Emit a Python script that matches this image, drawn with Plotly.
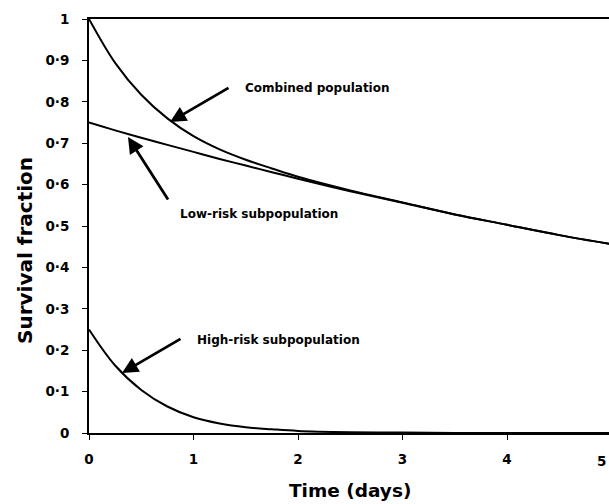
import plotly.graph_objects as go

# ---- data ----
time_days = [0, 0.25, 0.5, 0.75, 1, 1.25, 1.5, 1.75, 2, 2.5, 3, 3.5, 4, 4.5, 5]
combined = [1.0, 0.894, 0.817, 0.760, 0.717, 0.685, 0.660, 0.639, 0.619, 0.586, 0.557, 0.528, 0.503, 0.478, 0.456]
low_risk = [0.75, 0.731, 0.713, 0.696, 0.679, 0.662, 0.646, 0.630, 0.614, 0.584, 0.556, 0.528, 0.503, 0.478, 0.456]
high_risk = [0.25, 0.163, 0.104, 0.064, 0.038, 0.023, 0.014, 0.009, 0.005, 0.002, 0.001, 0.0, 0.0, 0.0, 0.0]

x_tick_vals = [0, 1, 2, 3, 4, 5]
x_tick_labels = ["0", "1", "2", "3", "4", "5"]
y_tick_vals = [0, 0.1, 0.2, 0.3, 0.4, 0.5, 0.6, 0.7, 0.8, 0.9, 1]
y_tick_labels = ["0", "0·1", "0·2", "0·3", "0·4", "0·5", "0·6", "0·7", "0·8", "0·9", "1"]

FONT = "DejaVu Sans"

fig = go.Figure()
for name, ys in [("Combined population", combined),
                 ("Low-risk subpopulation", low_risk),
                 ("High-risk subpopulation", high_risk)]:
    fig.add_trace(go.Scatter(x=time_days, y=ys, mode="lines", name=name,
                             line=dict(color="black", width=2, shape="spline", smoothing=1.0),
                             showlegend=False))

W, H = 609, 504
L, R, T, B = 89, 0, 19, 71
PW, PH = W - L - R, H - T - B
px_per_unit = 104.5
x_max = PW / px_per_unit

fig.update_layout(
    width=W, height=H,
    margin=dict(l=L, r=R, t=T, b=B),
    paper_bgcolor="white", plot_bgcolor="white",
    font=dict(family=FONT, color="black"),
    xaxis=dict(range=[0, x_max], tickvals=x_tick_vals[:-1], ticktext=x_tick_labels[:-1],
               showgrid=False, zeroline=False, showline=True, linecolor="black", linewidth=2,
               mirror=True, ticks="outside", ticklen=5, tickwidth=1, tickcolor="black",
               tickfont=dict(family=FONT, size=13.5, weight="bold", color="black"),
               ticklabelstandoff=8),
    yaxis=dict(range=[0, 1], tickvals=y_tick_vals, ticktext=y_tick_labels,
               showgrid=False, zeroline=False, showline=True, linecolor="black", linewidth=2,
               ticks="outside", ticklen=5, tickwidth=1, tickcolor="black",
               tickfont=dict(family=FONT, size=13.5, weight="bold", color="black"),
               ticklabelstandoff=10),
)

def px_to_data(px, py):
    return (px - L) / px_per_unit, (H - B - py) / PH

# arrows (head position in data coords, tail offset in pixels)
arrows = [((170, 122), (230, 87)),
          ((128, 137), (169, 201)),
          ((122, 373), (182, 338))]
for (hx, hy), (tx, ty) in arrows:
    dx, dy = px_to_data(hx, hy)
    fig.add_annotation(x=dx, y=dy, xref="x", yref="y", text="", showarrow=True,
                       ax=tx - hx, ay=ty - hy, arrowhead=2, arrowsize=1.15,
                       arrowwidth=2.8, arrowcolor="black")

labels = [("Combined population", 243, 88),
          ("Low-risk subpopulation", 178, 214),
          ("High-risk subpopulation", 195, 340)]
for txt, lx, ly in labels:
    dx, dy = px_to_data(lx, ly)
    fig.add_annotation(x=dx, y=dy, xref="x", yref="y", text=txt, showarrow=False,
                       xanchor="left", yanchor="middle",
                       font=dict(family=FONT, size=12, weight="bold", color="black"))

# last x tick label (at the right edge of the window)
fig.add_annotation(x=1.0, y=(H - B - 461) / PH,
                   xref="paper", yref="paper",
                   text=x_tick_labels[-1], showarrow=False, xanchor="right", yanchor="middle",
                   xshift=-1,
                   font=dict(family=FONT, size=13.5, weight="bold", color="black"))

# axis titles
fig.add_annotation(x=(350 - L) / PW, y=(H - B - 490) / PH,
                   xref="paper", yref="paper", text="Time (days)", showarrow=False,
                   xanchor="center", yanchor="middle",
                   font=dict(family=FONT, size=18.5, weight="bold", color="black"))
fig.add_annotation(x=(25 - L) / PW, y=(H - B - 251) / PH,
                   xref="paper", yref="paper", text="Survival fraction", showarrow=False,
                   textangle=-90, xanchor="center", yanchor="middle",
                   font=dict(family=FONT, size=20, weight="bold", color="black"))

fig.write_html("out.html")
